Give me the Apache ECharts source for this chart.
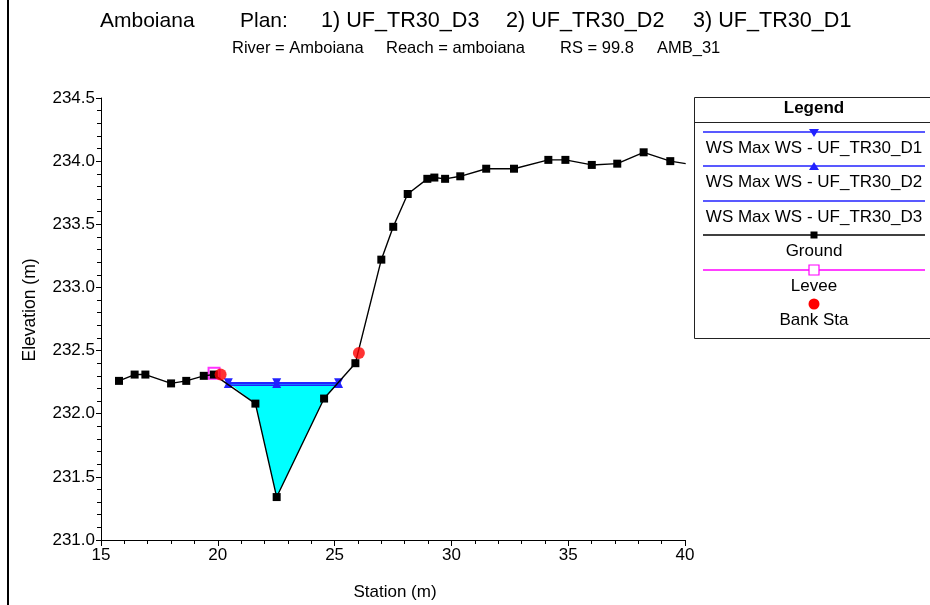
<!DOCTYPE html>
<html>
<head>
<meta charset="utf-8">
<script src="https://cdn.jsdelivr.net/npm/echarts@6/dist/echarts.min.js"></script>
<style>html,body{margin:0;padding:0;background:#fff}#c{width:930px;height:605px}</style>
</head>
<body>
<div id="c"></div>
<script>
// Ground profile (station, elevation)
var groundStation = [15.77,16.44,16.90,18.00,18.65,19.40,19.83,21.61,22.52,24.55,25.89,27.00,27.51,28.13,28.97,29.27,29.73,30.38,31.49,32.68,34.15,34.88,36.01,37.10,38.23,39.37,40.03];
var groundElev    = [232.26,232.31,232.31,232.24,232.26,232.30,232.31,232.08,231.34,232.12,232.40,233.22,233.48,233.74,233.86,233.87,233.86,233.88,233.94,233.94,234.01,234.01,233.97,233.98,234.07,234.00,233.98];
// Water surface stations (left edge, thalweg, right edge)
var wsStation = [20.45,22.52,25.17];
var wsD1 = [232.245,232.245,232.245];
var wsD2 = [232.24,232.24,232.24];
var wsD3 = [232.225,232.225,232.225];
// Levee and bank stations
var leveeStation = [19.84];
var leveeElev = [232.32];
var bankStation = [20.12,26.04];
var bankElev = [232.31,232.48];
// Axis ticks
var xTicks = {min:15,max:40,step:5};
var yTicks = {min:231,max:234.5,step:0.5};

var FONT = 'Liberation Sans';
function pairs(xs, ys){ return xs.map(function(x,i){ return [x, ys[i]]; }); }

var chart = echarts.init(document.getElementById('c'), null, {renderer:'canvas'});

var legendX = 694, legendW = 240, cx = 814;
function legLine(y, color){ return {type:'line', shape:{x1:703,y1:y,x2:925,y2:y}, style:{stroke:color,lineWidth:1.5}, z:100}; }
function legText(t, y, bold){ return {type:'text', x:cx, y:y, style:{text:t, fontFamily:FONT, fontSize:17, fontWeight:bold?'bold':'normal', fill:'#000', align:'center', verticalAlign:'middle'}, z:100}; }
function txt(t, x, y, size){ return {type:'text', x:x, y:y, style:{text:t, fontFamily:FONT, fontSize:size, fill:'#000', verticalAlign:'middle'}}; }

var graphics = [
  {type:'rect', shape:{x:7,y:0,width:2,height:605}, style:{fill:'#000'}},
  // title
  txt('Amboiana', 100, 21, 21),
  txt('Plan:', 240, 21, 21),
  txt('1) UF_TR30_D3', 321, 21, 21.6),
  txt('2) UF_TR30_D2', 506, 21, 21.6),
  txt('3) UF_TR30_D1', 693, 21, 21.6),
  // subtitle
  txt('River = Amboiana', 232, 48, 16.5),
  txt('Reach = amboiana', 386, 48, 16.5),
  txt('RS = 99.8', 560, 48, 16.5),
  txt('AMB_31', 657, 48, 16.5),
  // axis names
  {type:'text', x:30, y:310, rotation:Math.PI/2, style:{text:'Elevation (m)', fontFamily:FONT, fontSize:17.5, fill:'#000', align:'center', verticalAlign:'middle'}},
  {type:'text', x:395, y:592, style:{text:'Station (m)', fontFamily:FONT, fontSize:17, fill:'#000', align:'center', verticalAlign:'middle'}},
  // legend box
  {type:'rect', shape:{x:legendX+0.5,y:97.5,width:legendW,height:241}, style:{fill:'#fff',stroke:'#222',lineWidth:1}, z:99},
  {type:'line', shape:{x1:legendX,y1:122.5,x2:930,y2:122.5}, style:{stroke:'#222',lineWidth:1}, z:100},
  legText('Legend', 108, true),
  legLine(132,'#2222ff'),
  {type:'polygon', shape:{points:[[809,129],[819,129],[814,137]]}, style:{fill:'#2222ff'}, z:101},
  legText('WS Max WS - UF_TR30_D1', 148),
  legLine(166,'#2222ff'),
  {type:'polygon', shape:{points:[[809,170],[819,170],[814,162]]}, style:{fill:'#2222ff'}, z:101},
  legText('WS Max WS - UF_TR30_D2', 182),
  legLine(201,'#2222ff'),
  legText('WS Max WS - UF_TR30_D3', 217),
  legLine(235,'#000'),
  {type:'rect', shape:{x:810.5,y:231.5,width:7,height:7}, style:{fill:'#000'}, z:101},
  legText('Ground', 251),
  legLine(270,'#ff00ff'),
  {type:'rect', shape:{x:809,y:265,width:10,height:10}, style:{fill:'#fff',stroke:'#ff00ff',lineWidth:1.2}, z:101},
  legText('Levee', 286),
  {type:'circle', shape:{cx:814,cy:304,r:5.5}, style:{fill:'#ff0000'}, z:101},
  legText('Bank Sta', 320)
];

var option = {
  animation:false,
  backgroundColor:'#fff',
  grid:{left:101, top:98, width:584, height:442, containLabel:false},
  xAxis: {
    type:'value', min:xTicks.min, max:xTicks.max, interval:xTicks.step,
    axisLine:{show:true, lineStyle:{color:'#000', width:1}},
    axisTick:{show:true, length:6, lineStyle:{color:'#000'}},
    minorTick:{show:true, splitNumber:5, length:4, lineStyle:{color:'#000'}},
    splitLine:{show:false},
    axisLabel:{fontFamily:FONT, fontSize:17, color:'#000', margin:7}
  },
  yAxis: {
    type:'value', min:yTicks.min, max:yTicks.max, interval:yTicks.step,
    axisLine:{show:true, lineStyle:{color:'#000', width:1}},
    axisTick:{show:true, length:5, lineStyle:{color:'#000'}},
    minorTick:{show:true, splitNumber:5, length:4, lineStyle:{color:'#000'}},
    splitLine:{show:false},
    axisLabel:{fontFamily:FONT, fontSize:17, color:'#000', margin:6, formatter:function(v){return v.toFixed(1);}}
  },
  graphic: graphics,
  series:[
    {
      type:'custom', name:'fill', z:1,
      data:[[0]],
      renderItem:function(params, api){
        var pts = [api.coord([wsStation[0], wsD1[0]])];
        for (var i=0;i<groundStation.length;i++){
          if (groundStation[i] > wsStation[0] && groundStation[i] < wsStation[wsStation.length-1]) pts.push(api.coord([groundStation[i], groundElev[i]]));
        }
        pts.push(api.coord([wsStation[wsStation.length-1], wsD1[wsD1.length-1]]));
        return {type:'polygon', shape:{points:pts}, style:{fill:'#00ffff', stroke:null}};
      },
      silent:true
    },
    {type:'line', name:'WS D3', data:pairs(wsStation, wsD3), symbol:'none', lineStyle:{color:'#2222ff', width:1.5}, z:3},
    {type:'line', name:'WS D2', data:pairs(wsStation, wsD2), symbol:'triangle', symbolSize:9, itemStyle:{color:'#2222ff'}, lineStyle:{color:'#2222ff', width:1.5}, z:3},
    {type:'line', name:'WS D1', data:pairs(wsStation, wsD1), symbol:'triangle', symbolRotate:180, symbolSize:9, itemStyle:{color:'#2222ff'}, lineStyle:{color:'#2222ff', width:1.5}, z:3},
    {type:'scatter', name:'Levee', data:pairs(leveeStation, leveeElev), symbol:'emptyRect', symbolSize:11, itemStyle:{color:'#ff00ff', borderColor:'#ff00ff', borderWidth:1.2}, z:4},
    {type:'line', name:'Ground', data:pairs(groundStation, groundElev), symbol:'rect', symbolSize:8, itemStyle:{color:'#000'}, lineStyle:{color:'#000', width:1.4}, z:5},
    {type:'scatter', name:'Bank Sta', data:pairs(bankStation, bankElev), symbol:'circle', symbolSize:12, itemStyle:{color:'#ff0000'}, z:6}
  ]
};
chart.setOption(option);
</script>
</body>
</html>
